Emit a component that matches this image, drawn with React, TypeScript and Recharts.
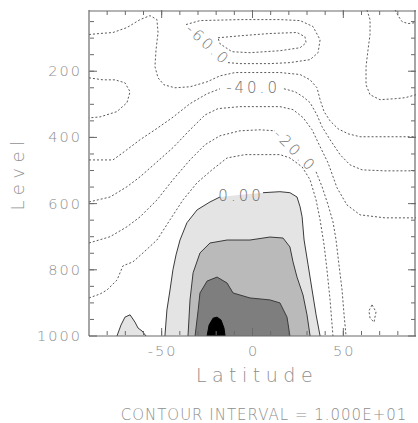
import React from 'react';
import { ComposedChart, Line, Area, XAxis, YAxis, ReferenceDot } from 'recharts';

// ---- axis ticks ----
const latMajorTicks = [-50, 0, 50];
const latMinorTicks = [-80, -70, -60, -50, -40, -30, -20, -10, 0, 10, 20, 30, 40, 50, 60, 70, 80];
const levelMajorTicks = [200, 400, 600, 800, 1000];
const levelMinorTicks = [50, 100, 150, 200, 250, 300, 350, 400, 450, 500, 550, 600, 650, 700, 750, 800, 850, 900, 950];

// ---- titles ----
const xTitle = 'Latitude';
const yTitle = 'Level';
const caption = 'CONTOUR INTERVAL = 1.000E+01';

// ---- contour lines: [latitude, level]; null level = gap for a contour label ----
const contourM70: [number, number | null][] = [[-19.0,99],[-6.9,93],[9.6,86],[24.5,83],[28.9,96],[29.5,114],[26.2,129],[15.1,138],[-1.4,144],[-11.3,141],[-17.9,117],[-19.0,99]];
const contourM60: [number, number | null][] = [[-13.5,174],[-6.9,177],[9.6,177],[20.6,174],[31.7,165],[36.1,144],[37.2,105],[33.3,65],[26.2,47],[15.1,44],[-6.9,44],[-28.9,47],[-36.6,59]];
const contourM50: [number, number | null][] = [[-90,89],[-83.9,86],[-76.8,83],[-69.1,68],[-61.9,44],[-56.4,32],[-52.6,44],[-52.0,83],[-53.1,135],[-53.7,186],[-52.0,220],[-48.7,241],[-42.7,250],[-34.4,247],[-25.0,232],[-17.9,214],[-9.6,204],[4.1,204],[15.1,204],[26.2,210],[31.7,226],[35.5,250],[37.2,286],[39.4,322],[42.7,350],[47.1,374],[52.6,389],[59.2,398],[75.7,398],[90,398]];
const contourM40: [number, number | null][] = [[-90,468],[-76.8,468],[-69.1,437],[-61.9,407],[-53.7,377],[-44.3,341],[-34.4,298],[-25.0,268],[-17.9,253],[0.3,null],[17.3,253],[23.4,262],[27.8,277],[31.7,295],[35.5,332],[38.3,368],[42.7,407],[48.2,452],[53.7,483],[60.3,498],[72.9,501],[90,501]];
const contourM30: [number, number | null][] = [[-90,595],[-78.4,580],[-69.1,549],[-61.9,519],[-52.6,474],[-43.8,431],[-34.4,377],[-26.1,332],[-19.0,313],[-6.9,307],[15.1,307],[22.3,316],[27.8,340],[32.8,377],[37.2,428],[41.6,477],[46.5,552],[52.0,604],[59.2,634],[72.9,643],[90,643]];
const contourM20: [number, number | null][] = [[-90,719],[-78.4,700],[-69.1,670],[-61.9,640],[-52.6,589],[-43.8,528],[-34.4,468],[-26.1,422],[-17.9,395],[-6.9,380],[4.1,377],[12.4,380],[23.4,null],[35.0,504],[38.3,549],[41.6,604],[44.3,655],[46.0,710],[47.6,785],[49.3,861],[50.4,936],[51.5,1000]];
const contourM10: [number, number | null][] = [[-90,885],[-83.9,873],[-80.1,861],[-74.6,831],[-71.3,788],[-65.8,776],[-60.3,749],[-52.6,710],[-45.4,649],[-38.3,589],[-30.5,537],[-22.3,498],[-14.0,462],[-4.1,452],[15.1,452],[20.6,462],[27.3,489],[31.7,528],[35.0,589],[37.2,649],[39.4,725],[41.0,800],[42.7,891],[44.3,1000]];
const contour0Fill: [number, number | null][] = [[-48.2,1000],[-47.1,921],[-45.4,861],[-43.8,800],[-42.1,755],[-39.9,710],[-36.1,658],[-30.5,619],[-23.4,595],[-17.9,580],[-6.3,573],[5.8,567],[15.1,564],[20.6,567],[24.5,580],[26.2,610],[27.3,640],[28.4,710],[30.6,785],[32.8,861],[35.0,936],[37.2,1000]];
const contour0Line: [number, number | null][] = [[-48.2,1000],[-47.1,921],[-45.4,861],[-43.8,800],[-42.1,755],[-39.9,710],[-36.1,658],[-30.5,619],[-23.4,595],[-17.9,580],[-6.3,null],[5.8,567],[15.1,564],[20.6,567],[24.5,580],[26.2,610],[27.3,640],[28.4,710],[30.6,785],[32.8,861],[35.0,936],[37.2,1000]];
const contour10: [number, number | null][] = [[-35.5,1000],[-34.4,891],[-32.7,809],[-28.9,749],[-23.4,719],[-14.0,710],[-1.4,710],[9.6,701],[16.8,704],[20.6,731],[22.3,776],[24.5,822],[27.8,876],[30.0,936],[31.7,1000]];
const contour20: [number, number | null][] = [[-31.6,1000],[-29.9,921],[-28.9,870],[-25.0,834],[-19.5,822],[-14.0,840],[-10.7,870],[-1.4,885],[9.6,891],[15.1,900],[19.0,943],[20.6,1000]];
const contour30: [number, number | null][] = [[-25.0,1000],[-23.9,967],[-21.7,946],[-19.5,943],[-17.3,952],[-15.7,976],[-15.1,1000]];
const hump0: [number, number | null][] = [[-74.6,1000],[-72.4,967],[-70.2,943],[-67.4,936],[-64.7,958],[-63.0,976],[-60.8,985],[-58.6,1000]];
const bulgeLeft: [number, number | null][] = [[-90,220],[-82.3,226],[-75.7,226],[-70.2,235],[-67.4,262],[-69.1,295],[-74.6,322],[-83.9,338],[-90,341]];
const cornerRight: [number, number | null][] = [[63.0,15],[64.7,44],[64.7,89],[63.6,135],[62.5,186],[62.5,241],[64.7,271],[70.2,286],[78.5,283],[84.0,280],[90,271]];
const cornerSmall: [number, number | null][] = [[78.5,15],[80.1,32],[82.3,50],[85.6,56],[90,53]];
const diamond: [number, number | null][] = [[65.8,906],[68.0,927],[66.9,958],[64.7,946],[64.1,924],[65.8,906]];

// contour labels
const contourLabels = [
  { text: '-60.0', lat: -24.5, level: 120, angle: 42 },
  { text: '-40.0', lat: 0.3, level: 250, angle: 0 },
  { text: '-20.0', lat: 23.4, level: 440, angle: 45 },
  { text: '0.00', lat: -6.3, level: 578, angle: 0 },
];

// one invisible anchor point that ties each frame-tick axis pair to a scale
const anchorPoint = [{ lat: 0, level: 500 }];

const toData = (arr: [number, number | null][]) => arr.map(([lat, level]) => ({ lat, level }));

const FONT = '"DejaVu Sans", sans-serif';
const TEXT_GRAY = '#8e8e8e';
const FRAME = '#6a6a6a';

const dashedLines = [contourM70, contourM60, contourM50, contourM40, contourM30, contourM20, contourM10, bulgeLeft, cornerRight, cornerSmall, diamond];

const XTick = (p: any) => (
  <text x={p.x + 1} y={p.y + 11} textAnchor="middle" fontFamily={FONT} fontWeight={200} fontSize={14.5} letterSpacing={2} fill={TEXT_GRAY}>
    {p.payload.value}
  </text>
);
const YTick = (p: any) => (
  <text x={p.x + 2} y={p.y + 5} textAnchor="end" fontFamily={FONT} fontWeight={200} fontSize={14.5} letterSpacing={2} fill={TEXT_GRAY}>
    {p.payload.value}
  </text>
);
const NoTick = () => <g />;

const tickAxisPairs = [
  ['bmin', 'lmin'],
  ['bmaj', 'lmaj'],
  ['tmin', 'rmin'],
  ['tmaj', 'rmaj'],
];

const frameTickProps = {
  type: 'number' as const,
  mirror: true,
  allowDataOverflow: true,
  tick: <NoTick />,
  interval: 0 as const,
  tickLine: { stroke: FRAME },
};

export default function App() {
  return (
    <div style={{ position: 'absolute', left: 0, top: 0, width: 418, height: 423, background: '#fff' }}>
      <ComposedChart width={418} height={423} margin={{ top: 10, right: 2, bottom: 0, left: 0 }}>
        <XAxis dataKey="lat" type="number" domain={[-90, 90]} allowDataOverflow ticks={latMajorTicks} interval={0}
          tickLine={false} tickSize={0} tickMargin={9} height={87} tick={<XTick />}
          axisLine={{ stroke: FRAME, strokeWidth: 1.2 }} />
        <YAxis type="number" domain={[15, 1000]} allowDataOverflow reversed ticks={levelMajorTicks} interval={0}
          tickLine={false} tickSize={0} tickMargin={9} width={89} tick={<YTick />}
          axisLine={{ stroke: FRAME, strokeWidth: 1.2 }} />

        {/* inward frame ticks */}
        <XAxis xAxisId="bmin" dataKey="lat" orientation="bottom" {...frameTickProps} domain={[-90, 90]} ticks={latMinorTicks} tickSize={4} height={1} axisLine={false} />
        <XAxis xAxisId="bmaj" dataKey="lat" orientation="bottom" {...frameTickProps} domain={[-90, 90]} ticks={latMajorTicks} tickSize={8} height={1} axisLine={false} />
        <XAxis xAxisId="tmin" dataKey="lat" orientation="top" {...frameTickProps} domain={[-90, 90]} ticks={latMinorTicks} tickSize={4} height={1} axisLine={{ stroke: FRAME, strokeWidth: 1.2 }} />
        <XAxis xAxisId="tmaj" dataKey="lat" orientation="top" {...frameTickProps} domain={[-90, 90]} ticks={latMajorTicks} tickSize={8} height={1} axisLine={false} />
        <YAxis yAxisId="lmin" orientation="left" {...frameTickProps} domain={[15, 1000]} reversed ticks={levelMinorTicks} tickSize={4} width={1} axisLine={false} />
        <YAxis yAxisId="lmaj" orientation="left" {...frameTickProps} domain={[15, 1000]} reversed ticks={levelMajorTicks} tickSize={8} width={1} axisLine={false} />
        <YAxis yAxisId="rmin" orientation="right" {...frameTickProps} domain={[15, 1000]} reversed ticks={levelMinorTicks} tickSize={4} width={1} axisLine={{ stroke: FRAME, strokeWidth: 1.2 }} />
        <YAxis yAxisId="rmaj" orientation="right" {...frameTickProps} domain={[15, 1000]} reversed ticks={levelMajorTicks} tickSize={8} width={1} axisLine={false} />

        {tickAxisPairs.map(([xa, ya]) => (
          <Line key={xa} xAxisId={xa} yAxisId={ya} data={anchorPoint} dataKey="level" stroke="none" dot={false} activeDot={false} isAnimationActive={false} legendType="none" />
        ))}

        {/* shaded positive regions */}
        <Area data={toData(contour0Fill)} dataKey="level" type="linear" baseValue={1000} fill="#e4e4e4" fillOpacity={1} stroke="none" isAnimationActive={false} dot={false} activeDot={false} legendType="none" />
        <Area data={toData(hump0)} dataKey="level" type="linear" baseValue={1000} fill="#e4e4e4" fillOpacity={1} stroke="#3a3a3a" strokeWidth={1} isAnimationActive={false} dot={false} activeDot={false} legendType="none" />
        <Area data={toData(contour10)} dataKey="level" type="linear" baseValue={1000} fill="#bababa" fillOpacity={1} stroke="#3a3a3a" strokeWidth={1} isAnimationActive={false} dot={false} activeDot={false} legendType="none" />
        <Area data={toData(contour20)} dataKey="level" type="linear" baseValue={1000} fill="#7e7e7e" fillOpacity={1} stroke="#3a3a3a" strokeWidth={1} isAnimationActive={false} dot={false} activeDot={false} legendType="none" />
        <Area data={toData(contour30)} dataKey="level" type="linear" baseValue={1000} fill="#000" fillOpacity={1} stroke="#000" strokeWidth={1} isAnimationActive={false} dot={false} activeDot={false} legendType="none" />

        <Line data={toData(contour0Line)} dataKey="level" type="linear" stroke="#3a3a3a" strokeWidth={1} dot={false} activeDot={false} isAnimationActive={false} legendType="none" />

        {dashedLines.map((c, i) => (
          <Line key={i} data={toData(c)} dataKey="level" type="linear" stroke="#5a5a5a" strokeWidth={1} strokeDasharray="2 2"
            dot={false} activeDot={false} isAnimationActive={false} legendType="none" />
        ))}

        {contourLabels.map((l) => (
          <ReferenceDot key={l.text} x={l.lat} y={l.level} r={0}
            shape={(p: any) => (
              <text x={p.cx} y={p.cy} transform={`rotate(${l.angle} ${p.cx} ${p.cy})`} textAnchor="middle" dominantBaseline="central"
                fontFamily={FONT} fontWeight={200} fontSize={15} letterSpacing={3} fill="#707070">
                {l.text}
              </text>
            )} />
        ))}
      </ComposedChart>
      <svg width={418} height={423} style={{ position: 'absolute', left: 0, top: 0, pointerEvents: 'none' }}>
        <text x={257} y={382} textAnchor="middle" fontFamily={FONT} fontWeight={200} fontSize={19} letterSpacing={5.5} fill={TEXT_GRAY}>
          {xTitle}
        </text>
        <text x={264} y={420} textAnchor="middle" fontFamily={FONT} fontWeight={200} fontSize={15} letterSpacing={1} fill={TEXT_GRAY}>
          {caption}
        </text>
        <text x={17} y={173} transform="rotate(-90 17 173)" textAnchor="middle" dominantBaseline="central" fontFamily={FONT} fontWeight={200} fontSize={18} letterSpacing={5.5} fill={TEXT_GRAY}>
          {yTitle}
        </text>
      </svg>
    </div>
  );
}
